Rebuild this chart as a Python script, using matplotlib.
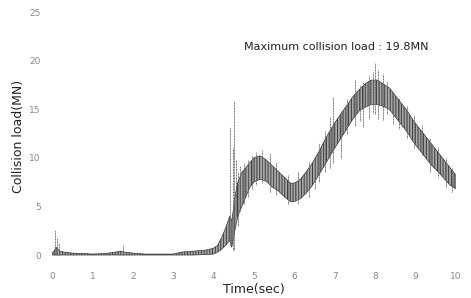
import matplotlib.pyplot as plt

# envelope of the noisy load trace (time in s, load in MN)
env_t = [0, 0.05, 0.1, 0.2, 0.3, 0.5, 0.8, 1.0, 1.3, 1.5, 1.7, 1.8, 2.0, 2.3, 2.6,
         3.0, 3.2, 3.5, 3.8, 4.0, 4.1, 4.2, 4.3, 4.4, 4.45, 4.5, 4.55, 4.6, 4.7,
         4.8, 4.9, 5.0, 5.15, 5.3, 5.45, 5.6, 5.75, 5.9, 6.0, 6.15, 6.3, 6.45,
         6.6, 6.8, 7.0, 7.15, 7.3, 7.45, 7.6, 7.75, 7.9, 8.05, 8.2, 8.35, 8.5,
         8.65, 8.8, 8.95, 9.1, 9.25, 9.4, 9.55, 9.7, 9.85, 10.0]
env_low = [0.0, 0.0, 0.0, 0.0, 0.0, 0.0, 0.0, 0.0, 0.0, 0.0, 0.0, 0.0, 0.0, 0.0, 0.0,
           0.0, 0.0, 0.0, 0.05, 0.1, 0.3, 0.6, 1.0, 1.5, 0.8, 2.0, 3.0, 4.0, 5.0,
           6.0, 7.0, 7.5, 7.8, 7.6, 7.0, 6.6, 6.0, 5.5, 5.5, 5.8, 6.4, 7.2,
           8.2, 9.6, 11.0, 12.0, 13.0, 14.0, 14.8, 15.2, 15.5, 15.5, 15.3, 15.0, 14.2,
           13.4, 12.6, 11.6, 10.8, 10.0, 9.2, 8.6, 7.9, 7.2, 6.8]
env_high = [0.2, 0.4, 0.8, 0.4, 0.3, 0.2, 0.15, 0.1, 0.15, 0.25, 0.4, 0.3, 0.2, 0.1, 0.1,
            0.1, 0.3, 0.4, 0.5, 0.7, 1.0, 1.8, 2.8, 4.0, 3.5, 5.0, 6.5, 7.5, 8.5,
            9.0, 9.5, 10.0, 10.2, 9.8, 9.2, 8.6, 8.0, 7.4, 7.4, 7.8, 8.6, 9.5,
            10.6, 12.2, 13.6, 14.5, 15.4, 16.3, 17.0, 17.6, 18.0, 18.0, 17.6, 17.2, 16.4,
            15.6, 14.8, 13.8, 13.0, 12.2, 11.4, 10.6, 9.8, 9.0, 8.2]

# isolated spikes sticking out of the band
spike_t = [0.07, 0.12, 0.17, 1.75, 4.41, 4.47, 4.5, 4.55, 4.6, 4.65, 4.75, 4.85, 4.95,
           5.05, 5.2, 5.4, 5.55, 5.85, 6.1, 6.35, 6.5, 6.62, 6.75, 6.88, 6.96, 7.15,
           7.3, 7.5, 7.62, 7.7, 7.85, 7.95, 8.0, 8.08, 8.2, 8.3, 8.45, 8.6, 8.8,
           8.95, 9.15, 9.35, 9.55, 9.75, 9.9]
spike_low = [0, 0, 0, 0, 1.0, 0.5, 0.5, 4.0, 3.0, 4.5, 5.2, 6.0, 6.8,
             7.2, 7.4, 6.5, 6.2, 5.2, 5.2, 6.0, 6.8, 7.5, 8.5, 9.0, 9.5, 10.0,
             12.4, 13.3, 13.8, 13.2, 14.0, 14.6, 14.5, 14.0, 13.9, 14.5, 13.5, 13.0, 12.0,
             11.0, 10.3, 8.5, 8.0, 7.0, 6.5]
spike_high = [2.6, 1.8, 1.2, 1.0, 13.2, 11.0, 15.8, 9.8, 8.5, 9.2, 9.5, 9.8, 10.3,
              10.6, 10.8, 10.5, 9.6, 8.2, 8.5, 9.6, 10.2, 11.5, 12.8, 14.2, 16.3, 14.8,
              16.0, 18.0, 17.5, 17.8, 18.4, 18.8, 19.8, 19.0, 18.6, 17.8, 16.6, 16.2, 15.3,
              14.4, 13.4, 12.0, 11.1, 10.0, 9.0]

x_ticks = list(range(0, 11))
y_ticks = [0, 5, 10, 15, 20, 25]

plt.rcParams["hatch.linewidth"] = 0.7

fig = plt.figure(figsize=(4.71, 2.98), dpi=100)
ax = fig.add_axes([0.1104, 0.1279, 0.8577, 0.8318])

ax.fill_between(env_t, env_low, env_high, facecolor="#a8a8a8", edgecolor="#3a3a3a",
                hatch="||||||", linewidth=0.5)
ax.vlines(spike_t, spike_low, spike_high, colors="#666666", linewidth=0.7,
          linestyles=(0, (1, 0.6)))

ax.text(4.75, 21.4, "Maximum collision load : 19.8MN", fontsize=8, color="#222222",
        va="center", ha="left")

ax.set_xlim(0, 10)
ax.set_ylim(-0.5, 25)
ax.set_xticks(x_ticks)
ax.set_yticks(y_ticks)
ax.tick_params(length=0, labelsize=6.5, labelcolor="#888888")
ax.tick_params(axis="x", pad=9)
ax.tick_params(axis="y", pad=8)
for s in ax.spines.values():
    s.set_visible(False)

ax.set_xlabel("Time(sec)", fontsize=9, color="#222222", labelpad=1)
ax.set_ylabel("Collision load(MN)", fontsize=9, color="#222222", labelpad=3)

fig.savefig("out.png", dpi=100)
